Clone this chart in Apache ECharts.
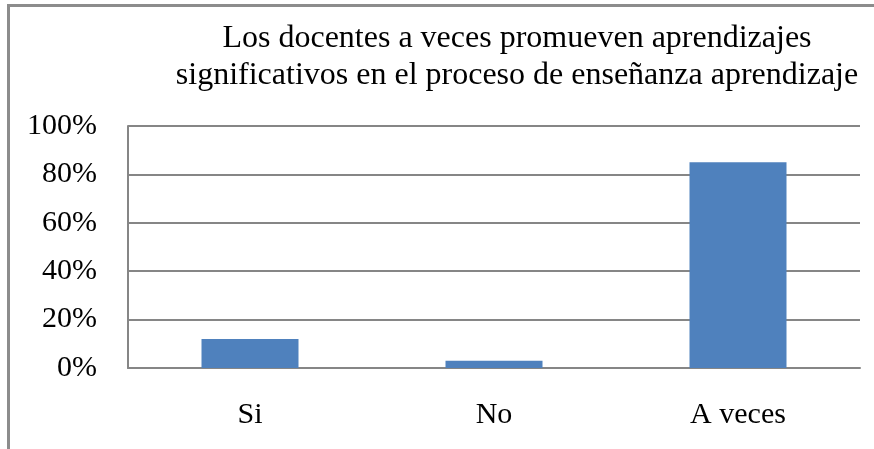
<!DOCTYPE html>
<html>
<head>
<meta charset="utf-8">
<script src="https://cdn.jsdelivr.net/npm/echarts@6/dist/echarts.min.js"></script>
<style>
  html, body { margin: 0; padding: 0; background: #fff; }
  #chart { width: 874px; height: 449px; }
</style>
</head>
<body>
<div id="chart"></div>
<script>
var titleText = 'Los docentes a veces promueven aprendizajes\nsignificativos en el proceso de enseñanza aprendizaje'
var categories = ['Si', 'No', 'A veces']
var values = [0.12, 0.03, 0.85]
var yTicks = [0, 0.2, 0.4, 0.6, 0.8, 1]

var serif = '"Liberation Serif", "DejaVu Serif", serif'
var chart = echarts.init(document.getElementById('chart'))
var option = {
  animation: false,
  title: {
    text: titleText,
    left: 512,
    top: 15,
    textAlign: 'center',
    textStyle: {
      fontFamily: serif,
      fontSize: 32,
      fontWeight: 'normal',
      color: '#000',
      lineHeight: 37
    }
  },
  graphic: [{
    type: 'rect',
    shape: { x: 8.5, y: 5.5, width: 900, height: 500 },
    style: { fill: 'none', stroke: '#8c8c8c', lineWidth: 3 },
    silent: true
  }],
  grid: {
    left: 128,
    right: 14,
    top: 126,
    bottom: 81
  },
  xAxis: {
    type: 'category',
    data: categories,
    axisLine: { lineStyle: { color: '#868686', width: 2 } },
    axisTick: { show: false },
    axisLabel: {
      fontFamily: serif,
      fontSize: 30,
      color: '#000',
      margin: 32
    }
  },
  yAxis: {
    type: 'value',
    min: yTicks[0],
    max: yTicks[yTicks.length - 1],
    interval: 0.2,
    axisLine: { show: true, lineStyle: { color: '#868686', width: 2 } },
    axisTick: { show: false },
    splitLine: { lineStyle: { color: '#868686', width: 2 } },
    axisLabel: {
      fontFamily: serif,
      fontSize: 30,
      color: '#000',
      margin: 31,
      padding: [6, 0, 0, 0],
      formatter: function (v) { return Math.round(v * 100) + '%' }
    }
  },
  series: [{
    type: 'bar',
    data: values,
    barWidth: 97,
    itemStyle: { color: '#4f81bd' }
  }]
}
chart.setOption(option)
</script>
</body>
</html>
